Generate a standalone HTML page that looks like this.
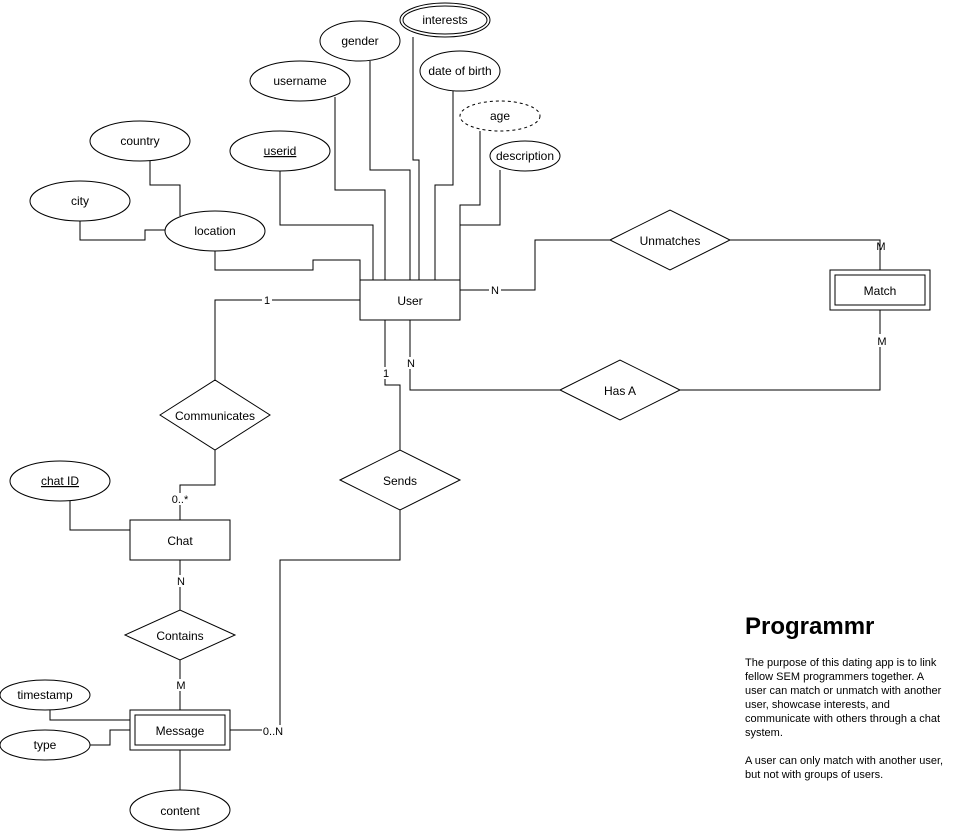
<!DOCTYPE html>
<html><head><meta charset="utf-8"><style>
html,body{margin:0;padding:0;background:#fff;}
svg{display:block;font-family:"Liberation Sans",Helvetica,Arial,sans-serif;}
text{font-size:12px;fill:#000;}
.l{font-size:11px;}
</style></head><body>
<svg width="971" height="831" viewBox="0 0 971 831" xmlns="http://www.w3.org/2000/svg">
<g fill="none" stroke="#000" stroke-width="1">
<!-- connectors -->
<polyline points="280,171 280,225 373,225 373,282"/>
<polyline points="335,97 335,190 385,190 385,280"/>
<polyline points="370,61 370,170 410,170 410,280"/>
<polyline points="413,37 413,160 419,160 419,280"/>
<polyline points="453,90 453,185 435,185 435,280"/>
<polyline points="480,131 480,205 460,205 460,280"/>
<polyline points="500,170 500,225 460,225"/>
<polyline points="215,251 215,270 313,270 313,260 360,260 360,280"/>
<polyline points="150,161 150,185 180,185 180,216"/>
<polyline points="80,221 80,240 145,240 145,230 165,230"/>
<polyline points="460,290 535,290 535,240 610,240"/>
<polyline points="730,240 880,240 880,270"/>
<polyline points="880,310 880,390 680,390"/>
<polyline points="410,320 410,390 560,390"/>
<polyline points="385,320 385,385 400,385 400,450"/>
<polyline points="360,300 215,300 215,380"/>
<polyline points="215,450 215,485 180,485 180,520"/>
<polyline points="70,501 70,530 130,530"/>
<polyline points="180,560 180,610"/>
<polyline points="180,660 180,710"/>
<polyline points="400,510 400,560 280,560 280,730 230,730"/>
<polyline points="50,710 50,720 130,720"/>
<polyline points="90,745 110,745 110,730 130,730"/>
<polyline points="180,750 180,790"/>
<!-- ellipses -->
<g fill="#fff">
<ellipse cx="445" cy="20" rx="45" ry="17"/>
<ellipse cx="445" cy="20" rx="42" ry="14"/>
<ellipse cx="360" cy="41" rx="40" ry="20"/>
<ellipse cx="300" cy="81" rx="50" ry="20"/>
<ellipse cx="460" cy="71" rx="40" ry="20"/>
<ellipse cx="500" cy="116" rx="40" ry="15" stroke-dasharray="3,3"/>
<ellipse cx="525" cy="156" rx="35" ry="15"/>
<ellipse cx="280" cy="151" rx="50" ry="20"/>
<ellipse cx="140" cy="141" rx="50" ry="20"/>
<ellipse cx="80" cy="201" rx="50" ry="20"/>
<ellipse cx="215" cy="231" rx="50" ry="20"/>
<ellipse cx="60" cy="481" rx="50" ry="20"/>
<ellipse cx="45" cy="695" rx="45" ry="15"/>
<ellipse cx="45" cy="745" rx="45" ry="15"/>
<ellipse cx="180" cy="810" rx="50" ry="20"/>
<!-- rects -->
<rect x="360" y="280" width="100" height="40"/>
<rect x="830" y="270" width="100" height="40"/>
<rect x="835" y="275" width="90" height="30"/>
<rect x="130" y="520" width="100" height="40"/>
<rect x="130" y="710" width="100" height="40"/>
<rect x="135" y="715" width="90" height="30"/>
<!-- diamonds -->
<polygon points="610,240 670,210 730,240 670,270"/>
<polygon points="560,390 620,360 680,390 620,420"/>
<polygon points="160,415 215,380 270,415 215,450"/>
<polygon points="340,480 400,450 460,480 400,510"/>
<polygon points="125,635 180,610 235,635 180,660"/>
</g>
</g>
<g text-anchor="middle">
<text x="445" y="24">interests</text>
<text x="360" y="45">gender</text>
<text x="300" y="85">username</text>
<text x="460" y="75">date of birth</text>
<text x="500" y="120">age</text>
<text x="525" y="160">description</text>
<text x="280" y="155" text-decoration="underline">userid</text>
<text x="140" y="145">country</text>
<text x="80" y="205">city</text>
<text x="215" y="235">location</text>
<text x="60" y="485" text-decoration="underline">chat ID</text>
<text x="45" y="699">timestamp</text>
<text x="45" y="749">type</text>
<text x="180" y="815">content</text>
<text x="410" y="305">User</text>
<text x="880" y="295">Match</text>
<text x="180" y="545">Chat</text>
<text x="180" y="735">Message</text>
<text x="670" y="245">Unmatches</text>
<text x="620" y="395">Has A</text>
<text x="215" y="420">Communicates</text>
<text x="400" y="485">Sends</text>
<text x="180" y="640">Contains</text>
</g>
<g text-anchor="middle" class="l">
<rect x="489" y="284" width="12" height="12" fill="#fff"/><text class="l" x="495" y="294">N</text>
<text class="l" x="881" y="250">M</text>
<rect x="875" y="334" width="12" height="13" fill="#fff"/><text class="l" x="882" y="345">M</text>
<rect x="405" y="357" width="12" height="12" fill="#fff"/><text class="l" x="411" y="367">N</text>
<rect x="381" y="367" width="10" height="12" fill="#fff"/><text class="l" x="386" y="377">1</text>
<rect x="262" y="294" width="10" height="12" fill="#fff"/><text class="l" x="267" y="304">1</text>
<rect x="170" y="493" width="20" height="12" fill="#fff"/><text class="l" x="180" y="503">0..*</text>
<rect x="175" y="575" width="12" height="12" fill="#fff"/><text class="l" x="181" y="585">N</text>
<rect x="175" y="679" width="12" height="12" fill="#fff"/><text class="l" x="181" y="689">M</text>
<rect x="262" y="725" width="22" height="12" fill="#fff"/><text class="l" x="273" y="735">0..N</text>
</g>
<text x="745" y="634" style="font-size:24px;font-weight:bold">Programmr</text>
<g class="l">
<text class="l" x="745" y="666">The purpose of this dating app is to link</text>
<text class="l" x="745" y="680">fellow SEM programmers together. A</text>
<text class="l" x="745" y="694">user can match or unmatch with another</text>
<text class="l" x="745" y="708">user, showcase interests, and</text>
<text class="l" x="745" y="722">communicate with others through a chat</text>
<text class="l" x="745" y="736">system.</text>
<text class="l" x="745" y="764">A user can only match with another user,</text>
<text class="l" x="745" y="778">but not with groups of users.</text>
</g>
</svg>
</body></html>
